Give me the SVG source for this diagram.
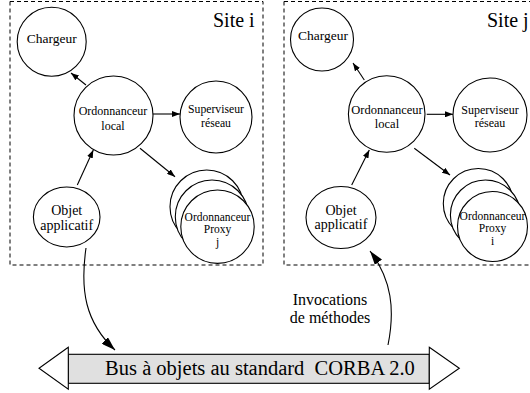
<svg xmlns="http://www.w3.org/2000/svg" width="530" height="393" viewBox="0 0 530 393">
<defs>
<marker id="ah" markerWidth="8" markerHeight="6" refX="8" refY="3" orient="auto" markerUnits="userSpaceOnUse"><path d="M0,0 L8,3 L0,6 z" fill="#000"/></marker>
<marker id="ahL" markerWidth="14" markerHeight="9" refX="14" refY="4.5" orient="auto" markerUnits="userSpaceOnUse"><path d="M0,0 L14,4.5 L0,9 z" fill="#000"/></marker>
</defs>
<style>
.box{fill:none;stroke:#000;stroke-width:1;stroke-dasharray:4 3}
.n{fill:#fff;stroke:#000;stroke-width:1.1}
.t{font-family:'Liberation Serif','DejaVu Serif',serif;fill:#000;text-anchor:middle}
.s{fill:none;stroke:#000;stroke-width:1.1;marker-end:url(#ah)}
.l{fill:none;stroke:#000;stroke-width:1.1;marker-end:url(#ahL)}
</style>
<g id="site_i">
<rect class="box" x="10" y="1.5" width="253" height="263.5"/>
<text class="t" x="213" y="27" font-size="20" style="text-anchor:start" font-family="Liberation Serif, serif">Site i</text>
</g>
<g id="site_j">
<rect class="box" x="284" y="1.5" width="260" height="263.5"/>
<text class="t" x="487" y="27" font-size="20" style="text-anchor:start" font-family="Liberation Serif, serif">Site j</text>
</g>
<g id="connectors">
<path class="s" d="M86,85 L71,73"/>
<path class="s" d="M153,114 L180,114"/>
<path class="s" d="M77.3,185 L93.3,150"/>
<path class="s" d="M140,148.3 L175,176.7"/>
<path class="s" d="M364.3,80 L353,63"/>
<path class="s" d="M426.7,114.3 L453,114.3"/>
<path class="s" d="M351.7,185 L369.3,150"/>
<path class="s" d="M414.3,148.3 L450,175"/>
<path class="l" d="M86,248 C80,290 85,322 115,350"/>
<path class="l" d="M388,345 C395,310 392,280 370,251"/>
</g>
<g id="chargeur_i" font-family="Liberation Serif, serif">
<circle class="n" cx="51.7" cy="41.7" r="34.5"/>
<text class="t" x="51.7" y="43" font-size="13.5">Chargeur</text>
</g>
<g id="ordonnanceur_i" font-family="Liberation Serif, serif">
<circle class="n" cx="113.5" cy="115.5" r="39.5"/>
<text class="t" x="113" y="115" font-size="12">Ordonnanceur</text>
<text class="t" x="113" y="130" font-size="12">local</text>
</g>
<g id="superviseur_i" font-family="Liberation Serif, serif">
<circle class="n" cx="216" cy="117" r="36"/>
<text class="t" x="216" y="113" font-size="11.7">Superviseur</text>
<text class="t" x="216" y="127" font-size="11.7">réseau</text>
</g>
<g id="objet_i" font-family="Liberation Serif, serif">
<ellipse class="n" cx="66.7" cy="217" rx="33.3" ry="30"/>
<text class="t" x="66.7" y="215" font-size="14">Objet</text>
<text class="t" x="66.7" y="230" font-size="14">applicatif</text>
</g>
<g id="proxy_i" font-family="Liberation Serif, serif">
<circle class="n" cx="206.7" cy="206.7" r="36.7"/>
<circle class="n" cx="212" cy="216.7" r="36.7"/>
<circle class="n" cx="217.5" cy="226.7" r="36.7"/>
<text class="t" x="217.5" y="221" font-size="11.5">Ordonnanceur</text>
<text class="t" x="217.5" y="233" font-size="11.5">Proxy</text>
<text class="t" x="217.5" y="245.5" font-size="11.5">j</text>
</g>
<g id="chargeur_j" font-family="Liberation Serif, serif">
<circle class="n" cx="322" cy="39.5" r="31.5"/>
<text class="t" x="323" y="40" font-size="13.5">Chargeur</text>
</g>
<g id="ordonnanceur_j" font-family="Liberation Serif, serif">
<circle class="n" cx="386.7" cy="114" r="38.3"/>
<text class="t" x="387" y="114" font-size="12.5">Ordonnanceur</text>
<text class="t" x="387" y="127.5" font-size="12.5">local</text>
</g>
<g id="superviseur_j" font-family="Liberation Serif, serif">
<circle class="n" cx="490" cy="115" r="37"/>
<text class="t" x="490" y="113.5" font-size="12">Superviseur</text>
<text class="t" x="490" y="126.5" font-size="12">réseau</text>
</g>
<g id="objet_j" font-family="Liberation Serif, serif">
<ellipse class="n" cx="341" cy="217.5" rx="35" ry="31"/>
<text class="t" x="341" y="215" font-size="14">Objet</text>
<text class="t" x="341" y="229" font-size="14">applicatif</text>
</g>
<g id="proxy_j" font-family="Liberation Serif, serif">
<circle class="n" cx="478.3" cy="203.5" r="35"/>
<circle class="n" cx="485.4" cy="215" r="35"/>
<circle class="n" cx="492.5" cy="226.5" r="35"/>
<text class="t" x="492.5" y="220" font-size="11.5">Ordonnanceur</text>
<text class="t" x="492.5" y="232" font-size="11.5">Proxy</text>
<text class="t" x="492.5" y="244.5" font-size="11.5">i</text>
</g>
<g id="invocations_label" font-family="Liberation Serif, serif">
<text class="t" x="330" y="305" font-size="16">Invocations</text>
<text class="t" x="330" y="323.3" font-size="16">de méthodes</text>
</g>
<g id="bus" font-family="Liberation Serif, serif">
<rect x="68.3" y="354.3" width="361" height="29" fill="#e0e0e0" stroke="#000" stroke-width="1.1"/>
<polygon points="68.3,347.3 39,368.3 68.3,389.3" fill="#fff" stroke="#000" stroke-width="1.1"/>
<polygon points="429.3,347.3 459.3,368.3 429.3,389.3" fill="#fff" stroke="#000" stroke-width="1.1"/>
<text class="t" x="260" y="375" font-size="20.5" xml:space="preserve">Bus à objets au standard  CORBA 2.0</text>
</g>
</svg>
